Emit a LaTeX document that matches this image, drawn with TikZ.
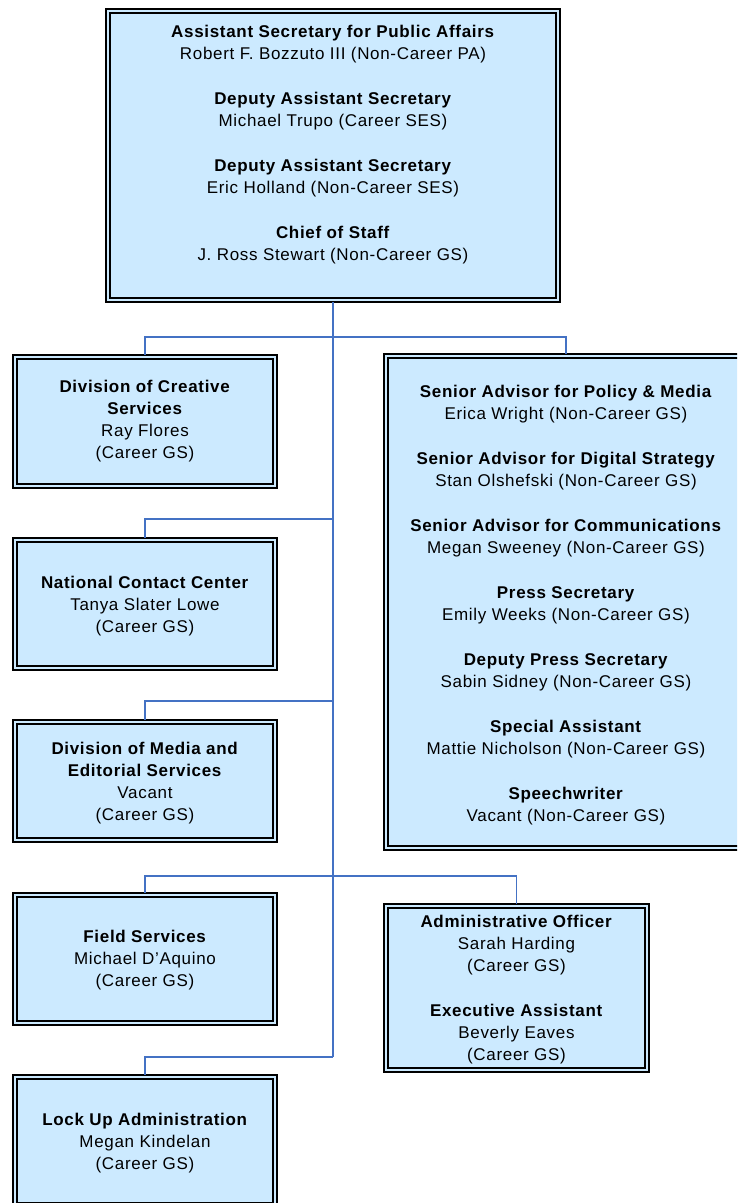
\documentclass[tikz,border=0pt]{standalone}
\usepackage{fontspec}
\setmainfont[LetterSpace=4]{Liberation Sans}
\definecolor{boxfill}{RGB}{204,234,255}
\definecolor{linkblue}{RGB}{68,114,196}
\tikzset{
  orgbox/.style={rectangle, draw=black, line width=2pt, fill=boxfill, inner sep=0pt, outer sep=0pt},
  innerline/.style={draw=black, line width=1.4pt},
  txt/.style={align=center, inner sep=0pt, font=\fontsize{17}{22}\selectfont},
  link/.style={draw=linkblue, line width=1.5pt},
}
% name, x1, y1, x2, y2 (pixel-like units, y downwards)
\newcommand{\orgrect}[5]{%
  \node[orgbox, minimum width={#4-#2-2}, minimum height={#5-#3-2}, anchor=north west] (#1) at (#2+1,#3+1) {};
  \draw[innerline] ([shift={(4pt,-4pt)}]#1.north west) rectangle ([shift={(-4pt,4pt)}]#1.south east);
}
\begin{document}
\begin{tikzpicture}[x=1pt, y=-1pt]
\clip (0,0) rectangle (737,1203);
\fill[white] (0,0) rectangle (737,1203);

% junction coordinates on the trunk
\coordinate (b1) at (333,337);
\coordinate (b2) at (333,519);
\coordinate (b3) at (333,701);
\coordinate (b4) at (333,876);
\coordinate (b5) at (333,1057);

\orgrect{top}{105}{8}{561}{303}
\orgrect{creative}{12}{354}{278}{489}
\orgrect{senior}{383}{353}{749}{851}
\orgrect{ncc}{12}{537}{278}{671}
\orgrect{media}{12}{719}{278}{843}
\orgrect{field}{12}{892}{278}{1026}
\orgrect{admin}{383}{903}{650}{1073}
\orgrect{lock}{12}{1074}{278}{1208}

\draw[link] (top.south) -- (b5);
\draw[link] (b1) -| (creative.north);
\draw[link] (b1) -| (senior.north);
\draw[link] (b2) -| (ncc.north);
\draw[link] (b3) -| (media.north);
\draw[link] (b4) -| (field.north);
\draw[link] (b4) -| (admin.north);
\draw[link] (b5) -| (lock.north);

% texts
\node[txt] (ttop) at (333,145) {\textbf{Assistant Secretary for Public Affairs}\\Robert F. Bozzuto III (Non-Career PA)\\[23pt]
\textbf{Deputy Assistant Secretary}\\Michael Trupo (Career SES)\\[23pt]
\textbf{Deputy Assistant Secretary}\\Eric Holland (Non-Career SES)\\[23pt]
\textbf{Chief of Staff}\\J. Ross Stewart (Non-Career GS)};

\node[txt] (tcre) at (145,421) {\textbf{Division of Creative}\\\textbf{Services}\\Ray Flores\\(Career GS)};
\node[txt] (tncc) at (145,606) {\textbf{National Contact Center}\\Tanya Slater Lowe\\(Career GS)};
\node[txt] (tmed) at (145,783) {\textbf{Division of Media and}\\\textbf{Editorial Services}\\Vacant\\(Career GS)};
\node[txt] (tfld) at (145,960) {\textbf{Field Services}\\Michael D'Aquino\\(Career GS)};
\node[txt] (tlck) at (145,1143) {\textbf{Lock Up Administration}\\Megan Kindelan\\(Career GS)};

\node[txt] (tsen) at (566,605) {\textbf{Senior Advisor for Policy \& Media}\\Erica Wright (Non-Career GS)\\[23pt]
\textbf{Senior Advisor for Digital Strategy}\\Stan Olshefski (Non-Career GS)\\[23pt]
\textbf{Senior Advisor for Communications}\\Megan Sweeney (Non-Career GS)\\[23pt]
\textbf{Press Secretary}\\Emily Weeks (Non-Career GS)\\[23pt]
\textbf{Deputy Press Secretary}\\Sabin Sidney (Non-Career GS)\\[23pt]
\textbf{Special Assistant}\\Mattie Nicholson (Non-Career GS)\\[23pt]
\textbf{Speechwriter}\\Vacant (Non-Career GS)};

\node[txt] (tadm) at (516.5,990) {\textbf{Administrative Officer}\\Sarah Harding\\(Career GS)\\[23pt]
\textbf{Executive Assistant}\\Beverly Eaves\\(Career GS)};
\end{tikzpicture}
\end{document}
